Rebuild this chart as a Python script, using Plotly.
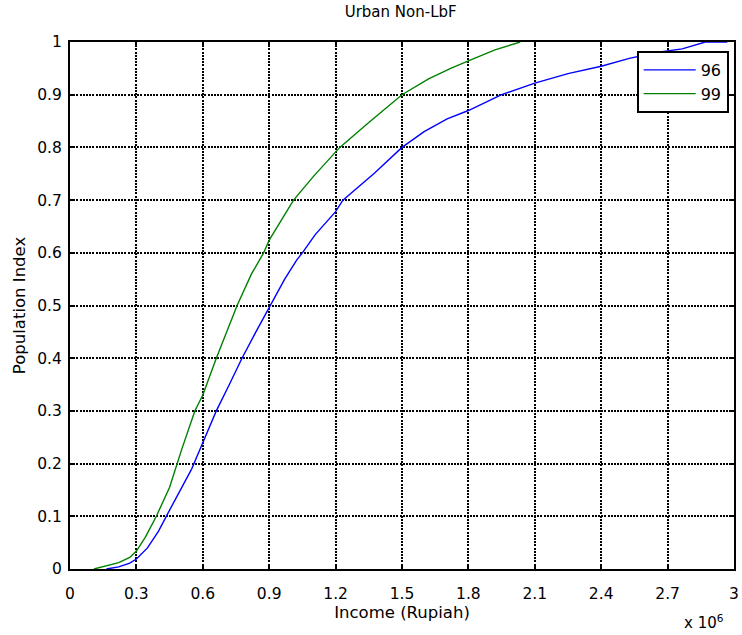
import plotly.graph_objects as go

# Income values in millions of Rupiah (axis carries the x 10^6 multiplier)
income_96 = [0.165, 0.22, 0.27, 0.30, 0.35, 0.40, 0.435, 0.50, 0.55, 0.586, 0.661, 0.72,
             0.777, 0.84, 0.905, 0.97, 1.024, 1.05, 1.107, 1.20, 1.233, 1.375, 1.50,
             1.60, 1.704, 1.80, 1.95, 2.10, 2.25, 2.40, 2.527, 2.65, 2.766, 2.87, 2.97]
pop_96 = [0.0, 0.004, 0.011, 0.019, 0.040, 0.072, 0.10, 0.15, 0.19, 0.226, 0.30, 0.35,
          0.40, 0.45, 0.50, 0.55, 0.586, 0.60, 0.634, 0.678, 0.70, 0.751, 0.80,
          0.83, 0.854, 0.87, 0.90, 0.922, 0.94, 0.954, 0.969, 0.98, 0.987, 1.0, 1.0]

income_99 = [0.108, 0.16, 0.22, 0.27, 0.30, 0.34, 0.39, 0.45, 0.504, 0.564, 0.60, 0.661,
             0.755, 0.82, 0.875, 0.90, 1.01, 1.10, 1.219, 1.346, 1.50, 1.62, 1.72,
             1.80, 1.92, 2.034]
pop_99 = [0.0, 0.005, 0.012, 0.022, 0.034, 0.06, 0.10, 0.155, 0.226, 0.30, 0.33, 0.40,
          0.50, 0.56, 0.60, 0.624, 0.70, 0.745, 0.80, 0.846, 0.90, 0.93, 0.95,
          0.964, 0.985, 1.0]

x_ticks = [0, 0.3, 0.6, 0.9, 1.2, 1.5, 1.8, 2.1, 2.4, 2.7, 3]
x_tick_text = ["0", "0.3", "0.6", "0.9", "1.2", "1.5", "1.8", "2.1", "2.4", "2.7", "3"]
y_ticks = [0, 0.1, 0.2, 0.3, 0.4, 0.5, 0.6, 0.7, 0.8, 0.9, 1]
y_tick_text = ["0", "0.1", "0.2", "0.3", "0.4", "0.5", "0.6", "0.7", "0.8", "0.9", "1"]

FONT = "DejaVu Sans, Liberation Sans, sans-serif"
TICK_SIZE = 15.5
LABEL_SIZE = 16.5

fig = go.Figure()
fig.add_trace(go.Scatter(x=income_96, y=pop_96, mode="lines", name="96",
                         line=dict(color="#0000ff", width=1.4)))
fig.add_trace(go.Scatter(x=income_99, y=pop_99, mode="lines", name="99",
                         line=dict(color="#008000", width=1.4)))

axis_common = dict(
    showline=True, linecolor="black", linewidth=2, mirror="allticks",
    ticks="inside", ticklen=5, tickcolor="black", tickwidth=1.5,
    showgrid=True, gridcolor="black", griddash="2px,1.2px", gridwidth=1.6,
    zeroline=False, tickfont=dict(family=FONT, size=TICK_SIZE, color="black"),
)

fig.update_xaxes(range=[0, 3], tickvals=x_ticks, ticktext=x_tick_text,
                 ticklabelstandoff=9,
                 title=dict(text="Income (Rupiah)",
                            font=dict(family=FONT, size=LABEL_SIZE, color="black"),
                            standoff=5),
                 **axis_common)
fig.update_yaxes(range=[0, 1], tickvals=y_ticks, ticktext=y_tick_text,
                 ticklabelstandoff=3,
                 title=dict(text="Population Index",
                            font=dict(family=FONT, size=LABEL_SIZE, color="black"),
                            standoff=7),
                 **axis_common)

fig.update_layout(
    width=742, height=635,
    margin=dict(l=70, r=3, t=42, b=66),
    paper_bgcolor="white", plot_bgcolor="white",
    title=dict(text="Urban Non-LbF", x=0.54, xanchor="center", y=0.99, yanchor="top",
               font=dict(family=FONT, size=15, color="black")),
    showlegend=True,
    legend=dict(x=0.992, xanchor="right", y=0.983, yanchor="top",
                bgcolor="white", bordercolor="black", borderwidth=2,
                font=dict(family=FONT, size=16, color="black"),
                itemwidth=52),
    annotations=[dict(text="x 10<sup>6</sup>", xref="paper", yref="paper",
                      x=0.988, xanchor="right", y=-0.078, yanchor="top", showarrow=False,
                      font=dict(family=FONT, size=15, color="black"))],
)

fig.write_html("out.html")
